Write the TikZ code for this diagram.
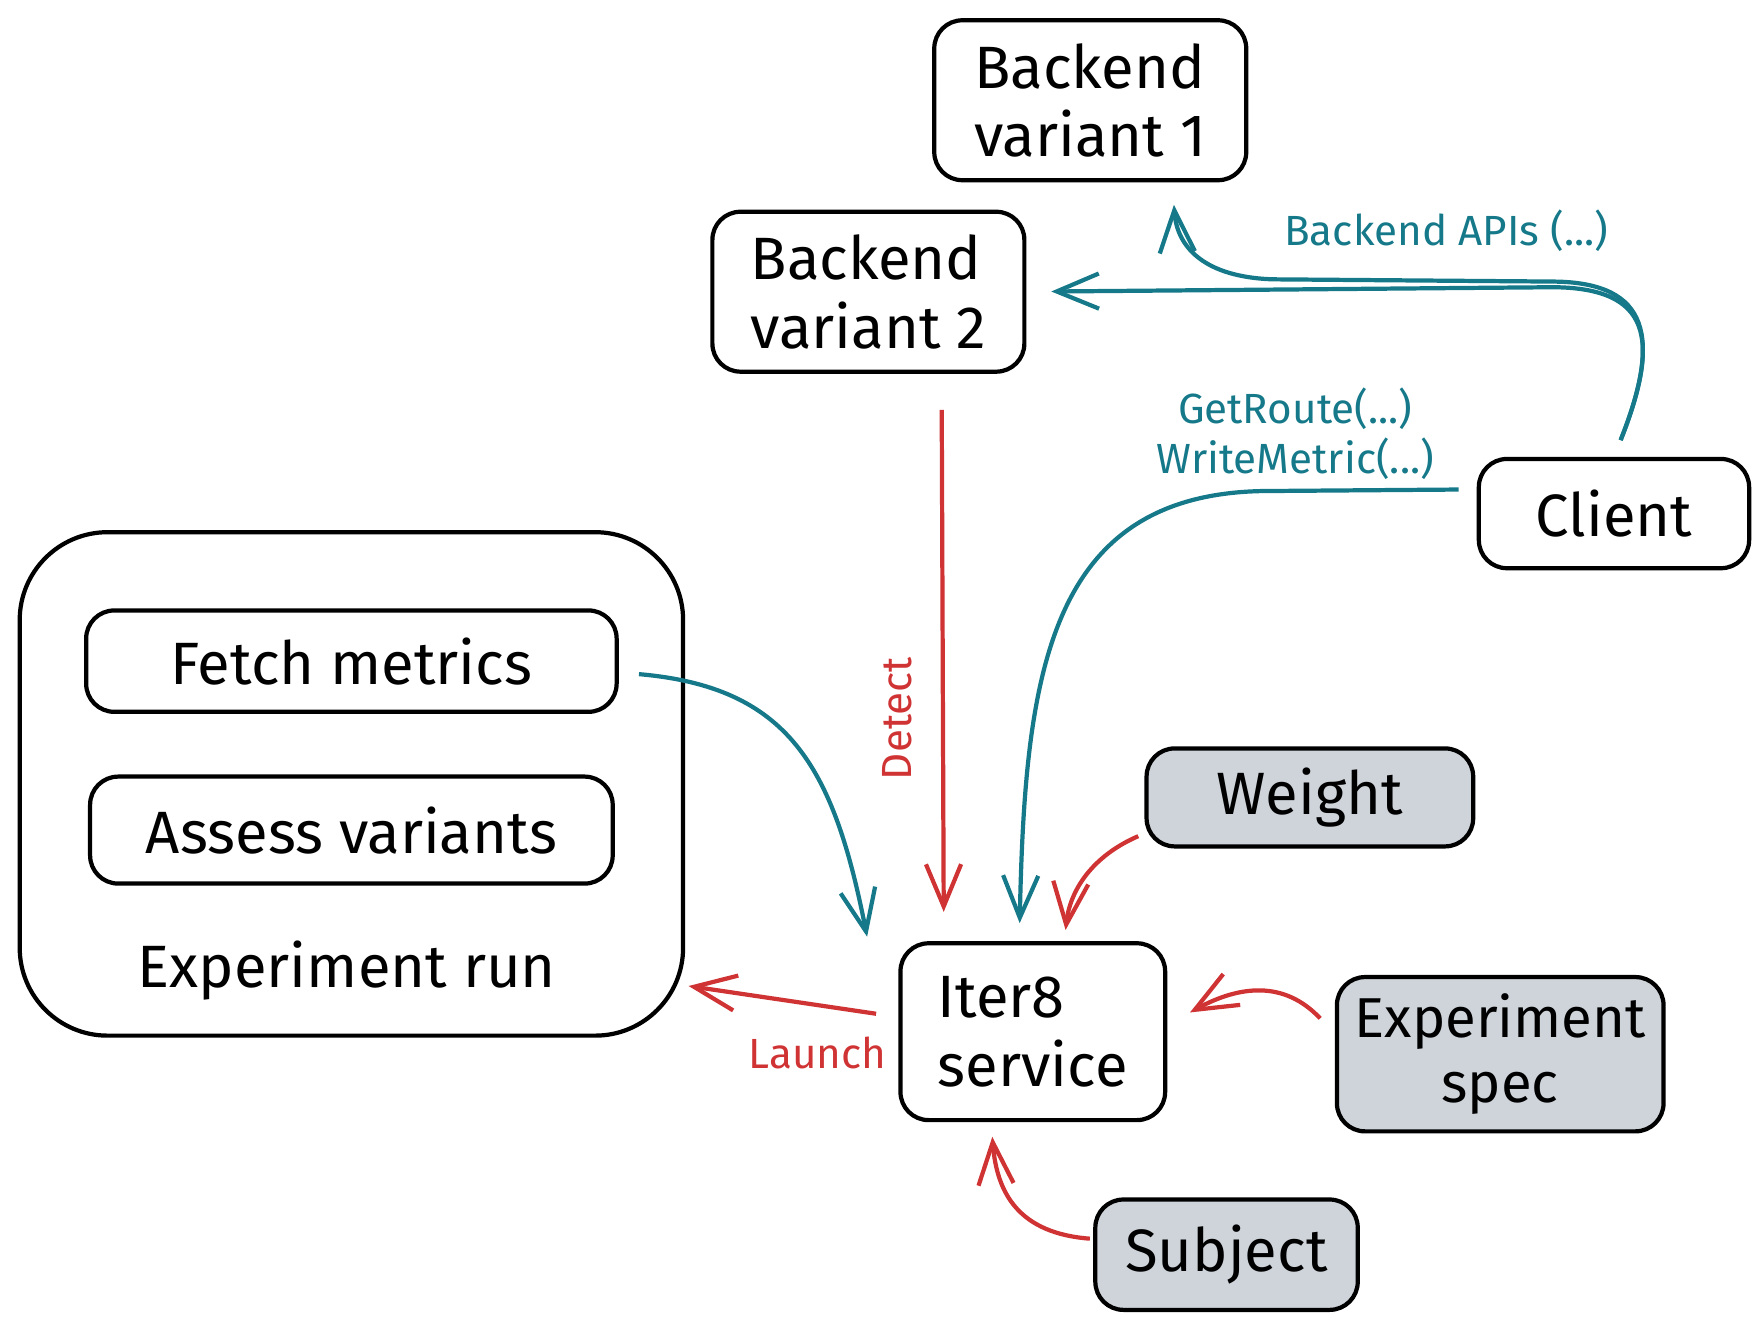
\documentclass[tikz,border=0pt]{standalone}
\usepackage{fontspec}
\setmainfont{Fira Sans}
\usetikzlibrary{arrows.meta}
\definecolor{apiteal}{HTML}{16798A}
\definecolor{ctrlred}{HTML}{D03333}
\definecolor{inputgray}{HTML}{CED4DA}
\newcommand{\pxl}{0.3204pt}
\begin{document}
\begin{tikzpicture}[x=0.011263cm, y=-0.011263cm, >={Straight Barb[length=12pt,width=10pt]}]
  \tikzstyle{box}=[draw, rounded corners=8pt, line width=1.2pt, inner sep=0pt, align=left, font=\fontsize{17}{19.5}\selectfont]
  \tikzstyle{input}=[box, fill=inputgray]
  \tikzstyle{api}=[->, apiteal, line width=1.2pt]
  \tikzstyle{ctrl}=[->, ctrlred, line width=1.2pt]
  \tikzstyle{lbl}=[font=\fontsize{12}{14}\selectfont, align=center]
  \useasboundingbox (0,0) rectangle (1560,1174);
  % boxes
  \node[box, minimum width=277*\pxl, minimum height=142*\pxl] (bvone) at (968,89) {Backend\\variant 1};
  \node[box, minimum width=277*\pxl, minimum height=142*\pxl] (bvtwo) at (771,259) {Backend\\variant 2};
  \node[box, minimum width=240*\pxl, minimum height=97*\pxl] (client) at (1433,456) {Client};
  \node[box, minimum width=589*\pxl, minimum height=447*\pxl, rounded corners=25pt] (exprun) at (312,696) {};
  \node[box, minimum width=471*\pxl, minimum height=90*\pxl] (fetch) at (312,587) {Fetch metrics};
  \node[box, minimum width=464*\pxl, minimum height=95*\pxl] (assess) at (312,737) {Assess variants};
  \node[font=\fontsize{17}{19.5}\selectfont] (runname) at (308,862) {Experiment run};
  \node[box, minimum width=235*\pxl, minimum height=157*\pxl] (iter) at (917,916) {Iter8\\service};
  \node[input, minimum width=290*\pxl, minimum height=87*\pxl] (weight) at (1163,708) {Weight};
  \node[input, minimum width=290*\pxl, minimum height=137*\pxl, align=center, font=\fontsize{16}{18.5}\selectfont] (spec) at (1332,936) {Experiment\\spec};
  \node[input, minimum width=233*\pxl, minimum height=98*\pxl] (subject) at (1089,1114) {Subject};
  % labels
  \node[lbl, apiteal] (apilbl) at (1284,205) {Backend APIs (...)};
  \node[lbl, apiteal] (routelbl) at (1150,385) {GetRoute(...)\\WriteMetric(...)};
  \node[lbl, ctrlred, rotate=90] (detectlbl) at (797,638) {Detect};
  \node[lbl, ctrlred] (launchlbl) at (726,935) {Launch};
  % client calls
  \draw[api, shorten <=16*\pxl, shorten >=22*\pxl] (client.north) .. controls (1475,300) and (1465,256) .. (1380,255) -- (bvtwo.east);
  \draw[api, shorten <=16*\pxl, shorten >=20*\pxl] (client.north) .. controls (1475,300) and (1465,251) .. (1380,250) -- (1130,248) .. controls (1070,246) and (1045,220) .. (bvone.-45);
  \draw[api, shorten <=16*\pxl, shorten >=16*\pxl] (client.170) -- (1120,436) .. controls (930,440) and (910,600) .. ([xshift=-12*\pxl]iter.north);
  \draw[api, shorten <=18*\pxl, shorten >=4*\pxl] ([yshift=-10*\pxl]fetch.east) .. controls (700,610) and (740,680) .. ([xshift=-27*\pxl]iter.north west);
  % iter8 inputs
  \draw[ctrl, shorten <=32*\pxl, shorten >=26*\pxl] ([xshift=65*\pxl]bvtwo.south) -- ([xshift=-79*\pxl]iter.north);
  \draw[ctrl, shorten <=6*\pxl, shorten >=10*\pxl] ([yshift=-32*\pxl]weight.west) .. controls (970,760) and (950,790) .. ([xshift=28*\pxl]iter.north);
  \draw[ctrl, shorten <=19*\pxl, shorten >=23*\pxl] ([yshift=18*\pxl]spec.west) .. controls (1140,870) and (1100,875) .. ([yshift=6*\pxl]iter.east);
  \draw[ctrl, shorten <=3*\pxl, shorten >=13*\pxl] ([yshift=14*\pxl]subject.west) .. controls (905,1095) and (885,1060) .. ([xshift=-37*\pxl]iter.south);
  \draw[ctrl, shorten <=20*\pxl, shorten >=3*\pxl] ([yshift=13*\pxl]iter.west) -- ([yshift=-179*\pxl]exprun.east);
\end{tikzpicture}
\end{document}
